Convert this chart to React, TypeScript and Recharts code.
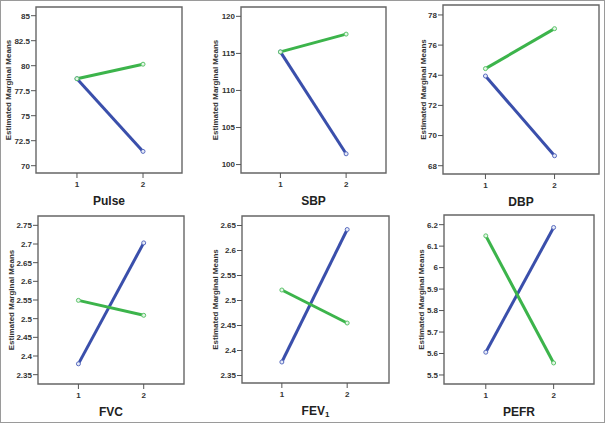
import React from 'react';
import {
  LineChart,
  Line,
  XAxis,
  YAxis,
  ReferenceArea,
  Label,
} from 'recharts';

// factor levels on the x axis
const categories = [1, 2];

// estimated marginal means, blue group and green group
const pulseBlue = [78.7, 71.43];
const pulseGreen = [78.7, 80.15];
const sbpBlue = [115.2, 101.45];
const sbpGreen = [115.2, 117.6];
const dbpBlue = [73.95, 68.66];
const dbpGreen = [74.44, 77.09];
const fvcBlue = [2.379, 2.703];
const fvcGreen = [2.549, 2.509];
const fev1Blue = [2.377, 2.642];
const fev1Green = [2.521, 2.455];
const pefrBlue = [5.606, 6.187];
const pefrGreen = [6.148, 5.556];

// y tick labels
const pulseTicks = [70, 72.5, 75, 77.5, 80, 82.5, 85];
const sbpTicks = [100, 105, 110, 115, 120];
const dbpTicks = [68, 70, 72, 74, 76, 78];
const fvcTicks = [2.35, 2.4, 2.45, 2.5, 2.55, 2.6, 2.65, 2.7, 2.75];
const fev1Ticks = [2.35, 2.4, 2.45, 2.5, 2.55, 2.6, 2.65];
const pefrTicks = [5.5, 5.6, 5.7, 5.8, 5.9, 6, 6.1, 6.2];

const BLUE = '#3a4fab';
const GREEN = '#3cb44b';
const FONT = "'Liberation Sans', Arial, sans-serif";
const Y_AXIS_W = 34;
const PAD = 4;
const X_AXIS_H = 40;

interface PanelProps {
  title: string;
  sub?: string;
  blue: number[];
  green: number[];
  ticks: number[];
  box: [number, number, number, number]; // left, top, right, bottom
  xDomain: [number, number];
  yDomain: [number, number];
  labelGap: number;
}

function Panel({ title, sub, blue, green, ticks, box, xDomain, yDomain, labelGap }: PanelProps) {
  const rows = categories.map((c, i) => ({ x: c, blue: blue[i], green: green[i] }));
  const [l, t, r, b] = box.map(Math.round);
  const width = r - l + Y_AXIS_W + PAD;
  const height = b - t + PAD + X_AXIS_H;

  const renderTitle = (props: any) => {
    const vb = props.viewBox || {};
    const cx = vb.x + vb.width / 2;
    const cy = vb.y + 28;
    return (
      <text
        x={cx}
        y={cy}
        textAnchor="middle"
        dominantBaseline="central"
        fontFamily="'Liberation Sans Narrow', 'Liberation Sans', Arial, sans-serif"
        fontWeight="bold"
        fontSize={12}
        fill="#222"
      >
        {title}
        {sub && (
          <tspan fontSize={8} dy={3}>
            {sub}
          </tspan>
        )}
      </text>
    );
  };

  const tickStyle = { fontSize: 8, fontWeight: 'bold' as const, fill: '#333', fontFamily: FONT };

  return (
    <div style={{ position: 'absolute', left: l - Y_AXIS_W, top: t - PAD }}>
      <LineChart
        width={width}
        height={height}
        data={rows}
        margin={{ top: PAD, right: PAD, bottom: 0, left: 0 }}
      >
        <XAxis
          dataKey="x"
          type="number"
          domain={xDomain}
          ticks={categories}
          allowDataOverflow
          axisLine={false}
          tickLine={{ stroke: '#555' }}
          tickSize={5}
          tickMargin={3}
          height={X_AXIS_H}
          tick={tickStyle}
        >
          <Label content={renderTitle} position="insideTop" />
        </XAxis>
        <YAxis
          type="number"
          domain={yDomain}
          ticks={ticks}
          allowDataOverflow
          interval={0}
          axisLine={false}
          tickLine={{ stroke: '#555' }}
          tickSize={5}
          tickMargin={1}
          width={Y_AXIS_W}
          tick={tickStyle}
        >
          <Label
            value="Estimated Marginal Means"
            angle={-90}
            position="insideLeft"
            offset={Y_AXIS_W - labelGap}
            style={{
              textAnchor: 'middle',
              fontSize: 8,
              fontWeight: 'bold',
              fill: '#333',
              fontFamily: FONT,
            }}
          />
        </YAxis>
        <ReferenceArea
          x1={xDomain[0]}
          x2={xDomain[1]}
          y1={yDomain[0]}
          y2={yDomain[1]}
          fill="none"
          stroke="#666"
          strokeWidth={1.4}
          ifOverflow="visible"
        />
        <Line
          dataKey="blue"
          stroke={BLUE}
          strokeWidth={3}
          dot={{ r: 2, fill: '#e6ebf7', stroke: '#5a6cc0', strokeWidth: 1 }}
          isAnimationActive={false}
        />
        <Line
          dataKey="green"
          stroke={GREEN}
          strokeWidth={3}
          dot={{ r: 2, fill: '#e6f5e8', stroke: '#5cc46a', strokeWidth: 1 }}
          isAnimationActive={false}
        />
      </LineChart>
    </div>
  );
}

export default function App() {
  return (
    <div
      style={{
        position: 'absolute',
        left: 0,
        top: 0,
        width: 605,
        height: 423,
        boxSizing: 'border-box',
        border: '1px solid #9a9a9a',
        background: '#fff',
        overflow: 'hidden',
      }}
    >
      <div style={{ position: 'absolute', left: -1, top: -1, width: 605, height: 423 }}>
        <Panel title="Pulse" blue={pulseBlue} green={pulseGreen} ticks={pulseTicks}
          box={[36, 7, 182, 173]} xDomain={[0.38, 2.59]} yDomain={[69.27, 85.87]} labelGap={27.7} />
        <Panel title="SBP" blue={sbpBlue} green={sbpGreen} ticks={sbpTicks}
          box={[241, 7, 386, 173]} xDomain={[0.4, 2.607]} yDomain={[98.86, 121.26]} labelGap={25.7} />
        <Panel title="DBP" blue={dbpBlue} green={dbpGreen} ticks={dbpTicks}
          box={[443, 5, 599, 174]} xDomain={[0.386, 2.643]} yDomain={[67.45, 78.66]} labelGap={20} />
        <Panel title="FVC" blue={fvcBlue} green={fvcGreen} ticks={fvcTicks}
          box={[38, 216, 184, 384]} xDomain={[0.381, 2.617]} yDomain={[2.325, 2.775]} labelGap={26.6} />
        <Panel title="FEV" sub="1" blue={fev1Blue} green={fev1Green} ticks={fev1Ticks}
          box={[242, 216, 389, 383]} xDomain={[0.39, 2.64]} yDomain={[2.335, 2.669]} labelGap={26.7} />
        <Panel title="PEFR" blue={pefrBlue} green={pefrGreen} ticks={pefrTicks}
          box={[444, 215, 594, 384]} xDomain={[0.384, 2.595]} yDomain={[5.458, 6.245]} labelGap={22.6} />
      </div>
    </div>
  );
}
